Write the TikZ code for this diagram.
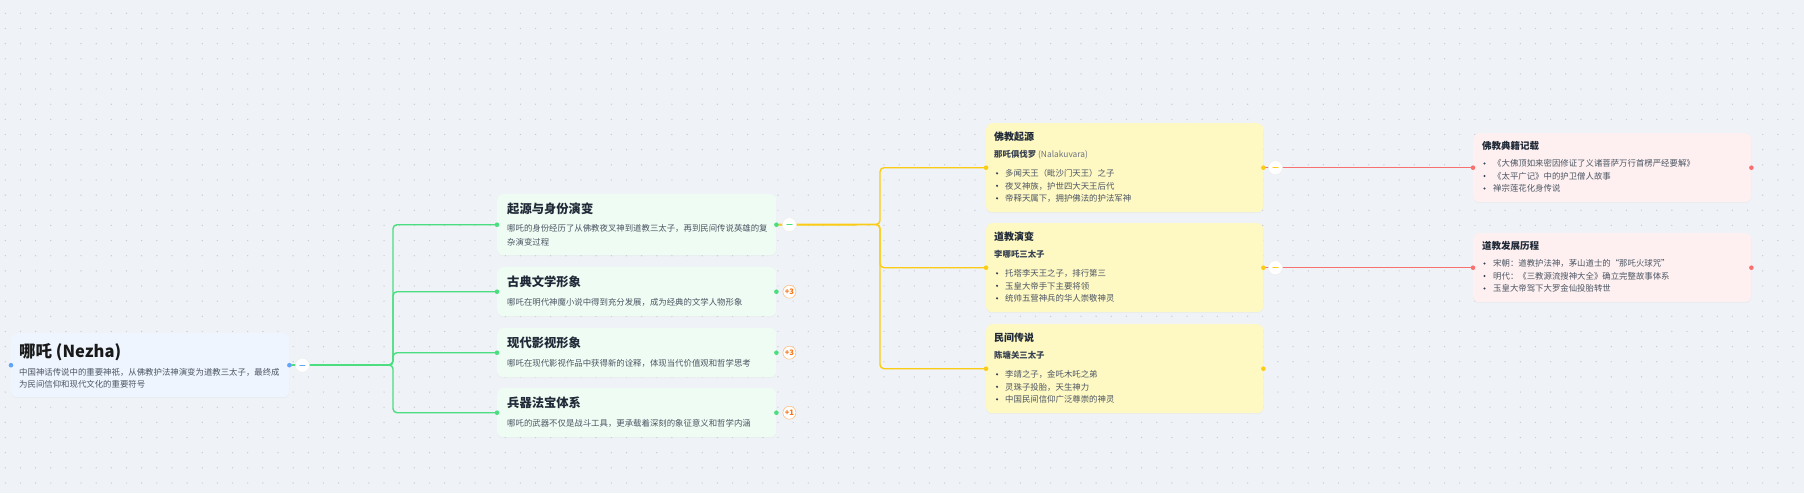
\documentclass[tikz,border=0pt]{standalone}
\usepackage{fontspec}
\setmainfont{Noto Sans CJK SC}
\usetikzlibrary{shadows,calc}
\definecolor{bg}{HTML}{EFF2F6}
\definecolor{gridc}{HTML}{C6CCD3}
\definecolor{rootfill}{HTML}{EEF5FE}
\definecolor{rootc}{HTML}{60A5FA}
\definecolor{gfill}{HTML}{EFFCF3}
\definecolor{gc}{HTML}{4ADE80}
\definecolor{yfill}{HTML}{FEF8C3}
\definecolor{yc}{HTML}{FACC15}
\definecolor{rfill}{HTML}{FEF0F0}
\definecolor{rc}{HTML}{F87171}
\definecolor{ttl}{HTML}{1F2937}
\definecolor{subc}{HTML}{374151}
\definecolor{txt}{HTML}{4B5563}
\definecolor{grayc}{HTML}{6B7280}
\definecolor{badgec}{HTML}{F97316}
\definecolor{badgeb}{HTML}{FDBA74}
\newcommand\fsz[2]{\fontsize{#1}{#2}\selectfont}
\tikzset{
  boxbase/.style={rounded corners=6pt, inner sep=0pt, anchor=north west,
    drop shadow={opacity=0.05, shadow xshift=0pt, shadow yshift=-1pt}},
  rootbox/.style={boxbase, fill=rootfill, minimum width=278pt, minimum height=64pt},
  lonebox/.style={boxbase, fill=gfill, minimum width=279pt},
  ltwobox/.style={boxbase, fill=yfill, minimum width=277pt, minimum height=89pt},
  lthreebox/.style={boxbase, fill=rfill, minimum width=278pt, minimum height=69pt},
  txtn/.style={anchor=base west, inner sep=0pt, text=txt, font=\fsz{8.4}{10}},
  ttln/.style={anchor=base west, inner sep=0pt, text=ttl},
  subn/.style={anchor=base west, inner sep=0pt, text=subc, font=\fsz{8.4}{10}\bfseries},
  portdot/.style={circle, inner sep=0pt, minimum size=4.6pt, fill=#1},
  btn/.style={circle, fill=white, draw=black!7, line width=0.4pt, minimum size=14pt, inner sep=0pt},
  badgen/.style={circle, fill=white, draw=badgeb, line width=0.5pt, minimum size=13pt, inner sep=0pt,
    text=badgec, font=\fsz{7.6}{8}\bfseries},
  gline/.style={draw=gc, line width=1.4pt, rounded corners=4pt},
  yline/.style={draw=yc, line width=1.4pt, rounded corners=4pt},
  rline/.style={draw=rc, line width=0.9pt},
  minus/.style={line width=1pt, line cap=round},
  bulletc/.style={fill=subc}
}
\begin{document}
\begin{tikzpicture}[x=1pt,y=-1pt]
\fill[bg] (0,0) rectangle (1804,493);
\useasboundingbox (0,0) rectangle (1804,493);
\foreach \j in {0,...,31} {
  \fill[gridc] \foreach \i in {0,...,118} {(5.3+15.15*\i, 13.3+15.15*\j) circle (0.7)};
}

% ---------- boxes ----------
\node[rootbox] (root) at (11,333) {};
\node[lonebox, minimum height=61pt] (la) at (497,194) {};
\node[lonebox, minimum height=49pt] (lb) at (497,267) {};
\node[lonebox, minimum height=49pt] (lc) at (497,328) {};
\node[lonebox, minimum height=49pt] (ld) at (497,388) {};
\node[ltwobox] (pa) at (986,123) {};
\node[ltwobox] (pb) at (986,223) {};
\node[ltwobox] (pc) at (986,324) {};
\node[lthreebox] (qa) at (1473,133) {};
\node[lthreebox] (qb) at (1473,233) {};

% ---------- connectors ----------
\coordinate (gj) at (393,365);
\foreach \n in {la,lb,lc,ld} { \draw[gline] (root.east) -- (gj) |- (\n.west); }
\coordinate (yj) at (880,224.5);
\foreach \n in {pa,pb,pc} { \draw[yline] (la.east) -- (yj) |- (\n.west); }
\draw[rline] (pa.east) -- (qa.west);
\draw[rline] (pb.east) -- (qb.west);

% ---------- port dots ----------
\node[portdot=rootc] (root-w) at (root.west) {};
\node[portdot=rootc] (root-e) at (root.east) {};
\foreach \n in {la,lb,lc,ld} {
  \node[portdot=gc] (\n-w) at (\n.west) {};
  \node[portdot=gc] (\n-e) at (\n.east) {};
}
\foreach \n in {pa,pb,pc} {
  \node[portdot=yc] (\n-w) at (\n.west) {};
  \node[portdot=yc] (\n-e) at (\n.east) {};
}
\foreach \n in {qa,qb} {
  \node[portdot=rc] (\n-w) at (\n.west) {};
  \node[portdot=rc] (\n-e) at (\n.east) {};
}

% ---------- collapse buttons ----------
\node[btn] (root-b) at ($(root.east)+(13,0)$) {};
\draw[minus, draw=rootc] ($(root-b)+(-2.6,0)$) -- ($(root-b)+(2.6,0)$);
\node[btn] (la-b) at ($(la.east)+(13,0)$) {};
\draw[minus, draw=gc] ($(la-b)+(-2.6,0)$) -- ($(la-b)+(2.6,0)$);
\node[btn] (pa-b) at ($(pa.east)+(12,0)$) {};
\draw[minus, draw=yc] ($(pa-b)+(-2.6,0)$) -- ($(pa-b)+(2.6,0)$);
\node[btn] (pb-b) at ($(pb.east)+(12,0)$) {};
\draw[minus, draw=yc] ($(pb-b)+(-2.6,0)$) -- ($(pb-b)+(2.6,0)$);

% ---------- badges ----------
\node[badgen] (lb-k) at ($(lb.east)+(13,0)$) {+3};
\node[badgen] (lc-k) at ($(lc.east)+(13,0)$) {+3};
\node[badgen] (ld-k) at ($(ld.east)+(13,0)$) {+1};

% ---------- root text ----------
\node[ttln, text=black!90, font=\fsz{16.5}{20}\bfseries] (root-t) at (19,357) {哪吒 (Nezha)};
\node[txtn] (root-d1) at (19,375.5) {中国神话传说中的重要神祇，从佛教护法神演变为道教三太子，最终成};
\node[txtn] (root-d2) at (19,387) {为民间信仰和现代文化的重要符号};

% ---------- level 1 text ----------
\node[ttln, font=\fsz{12.3}{14}\bfseries] (la-t) at (507,213) {起源与身份演变};
\node[txtn] (la-d1) at (507,231.5) {哪吒的身份经历了从佛教夜叉神到道教三太子，再到民间传说英雄的复};
\node[txtn] (la-d2) at (507,245.5) {杂演变过程};
\node[ttln, font=\fsz{12.3}{14}\bfseries] (lb-t) at (507,286.5) {古典文学形象};
\node[txtn] (lb-d1) at (507,305.5) {哪吒在明代神魔小说中得到充分发展，成为经典的文学人物形象};
\node[ttln, font=\fsz{12.3}{14}\bfseries] (lc-t) at (507,347.5) {现代影视形象};
\node[txtn] (lc-d1) at (507,366.5) {哪吒在现代影视作品中获得新的诠释，体现当代价值观和哲学思考};
\node[ttln, font=\fsz{12.3}{14}\bfseries] (ld-t) at (507,407.5) {兵器法宝体系};
\node[txtn] (ld-d1) at (507,426.5) {哪吒的武器不仅是战斗工具，更承载着深刻的象征意义和哲学内涵};

% ---------- level 2 text ----------
\node[ttln, font=\fsz{10}{12}\bfseries] (pa-t) at (994,140) {佛教起源};
\node[subn] (pa-s) at (994,157.5) {那吒俱伐罗 \textcolor{grayc}{\mdseries(Nalakuvara)}};
\node[txtn] (pa-1) at (1005,176.5) {多闻天王（毗沙门天王）之子};
\node[txtn] (pa-2) at (1005,189) {夜叉神族，护世四大天王后代};
\node[txtn] (pa-3) at (1005,201.5) {帝释天属下，拥护佛法的护法军神};
\foreach \y in {176.5,189,201.5} { \fill[bulletc] (997,\y-3.2) circle (1.2); }

\node[ttln, font=\fsz{10}{12}\bfseries] (pb-t) at (994,240) {道教演变};
\node[subn] (pb-s) at (994,257.5) {李哪吒三太子};
\node[txtn] (pb-1) at (1005,276.5) {托塔李天王之子，排行第三};
\node[txtn] (pb-2) at (1005,289) {玉皇大帝手下主要将领};
\node[txtn] (pb-3) at (1005,301.5) {统帅五营神兵的华人崇敬神灵};
\foreach \y in {276.5,289,301.5} { \fill[bulletc] (997,\y-3.2) circle (1.2); }

\node[ttln, font=\fsz{10}{12}\bfseries] (pc-t) at (994,341) {民间传说};
\node[subn] (pc-s) at (994,358.5) {陈塘关三太子};
\node[txtn] (pc-1) at (1005,377.5) {李靖之子，金吒木吒之弟};
\node[txtn] (pc-2) at (1005,390) {灵珠子投胎，天生神力};
\node[txtn] (pc-3) at (1005,402.5) {中国民间信仰广泛尊崇的神灵};
\foreach \y in {377.5,390,402.5} { \fill[bulletc] (997,\y-3.2) circle (1.2); }

% ---------- level 3 text ----------
\node[ttln, font=\fsz{9.5}{11}\bfseries] (qa-t) at (1482,149.6) {佛教典籍记载};
\node[txtn] (qa-1) at (1493,166.7) {《大佛顶如来密因修证了义诸菩萨万行首楞严经要解》};
\node[txtn] (qa-2) at (1493,179.2) {《太平广记》中的护卫僧人故事};
\node[txtn] (qa-3) at (1493,191.7) {禅宗莲花化身传说};
\foreach \y in {166.7,179.2,191.7} { \fill[bulletc] (1484.5,\y-3.2) circle (1.2); }

\node[ttln, font=\fsz{9.5}{11}\bfseries] (qb-t) at (1482,249.6) {道教发展历程};
\node[txtn] (qb-1) at (1493,266.7) {宋朝：道教护法神，茅山道士的“那吒火球咒”};
\node[txtn] (qb-2) at (1493,279.2) {明代：《三教源流搜神大全》确立完整故事体系};
\node[txtn] (qb-3) at (1493,291.7) {玉皇大帝驾下大罗金仙投胎转世};
\foreach \y in {266.7,279.2,291.7} { \fill[bulletc] (1484.5,\y-3.2) circle (1.2); }
\end{tikzpicture}
\end{document}
